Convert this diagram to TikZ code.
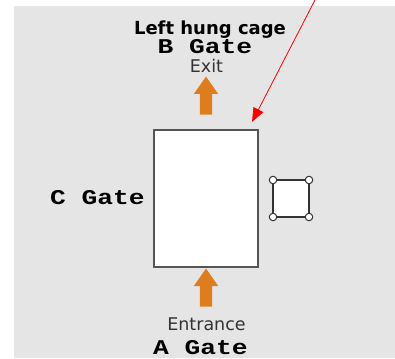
\documentclass[tikz,border=0pt]{standalone}
\usepackage{fontspec}
\setmainfont{DejaVu Sans}
\newfontfamily\gatefont[FakeStretch=1.25]{Liberation Mono}
\usetikzlibrary{shapes.arrows,arrows.meta}

\definecolor{bggray}{RGB}{229,229,229}
\definecolor{flow}{RGB}{222,125,30}
\definecolor{frame}{RGB}{85,85,85}
\definecolor{label}{RGB}{51,51,51}

\begin{document}
\begin{tikzpicture}[x=1pt,y=-1pt,
 gate/.style={anchor=base,font=\gatefont\bfseries\fontsize{21}{21}\selectfont},
 sign/.style={anchor=base,text=label,font=\fontsize{17.5}{17.5}\selectfont},
 flowarrow/.style={single arrow,shape border rotate=90,fill=flow,inner sep=6pt,
   single arrow head extend=6pt,single arrow tip angle=70,minimum height=38},
 hinge/.style={circle,draw=black!80,fill=white,line width=1pt,inner sep=0pt,minimum size=7.5}]

\useasboundingbox (0,0) rectangle (395,358);
\fill[bggray] (14,6) rectangle (395,358);

% cage and gates
\node[draw=frame,fill=white,line width=1.2pt,minimum width=104,minimum height=137] (cage) at (206,198.5) {};
\node[flowarrow] (exitarrow) at (206,100) {};
\node[flowarrow] (entryarrow) at (206,292) {};

\node[anchor=base,font=\bfseries\fontsize{18}{18}\selectfont] (title) at (210,35) {Left hung cage};
\node[gate] (bgate) at (205,54) {B Gate};
\node[sign] (exit) at (206.5,73) {Exit};
\node[gate] (cgate) at (97.5,204) {C Gate};
\node[sign] (entrance) at (206.5,330) {Entrance};
\node[gate] (agate) at (200.5,354) {A Gate};

% hinged door
\coordinate (c1) at (273,180);
\coordinate (c2) at (309,180);
\coordinate (c3) at (309,217);
\coordinate (c4) at (273,217);
\fill[white] (c1) rectangle (c3);
\draw[black!80,line width=1.5pt] (c1) -- (c2) -- (c3) -- (c4) -- cycle;
\foreach \c in {c1,c2,c3,c4}
 \node[hinge] (h\c) at (\c) {};

% pointer
\coordinate (start) at (315,0);
\coordinate (corner) at (252,122);
\draw[red,line width=0.8pt,-{Triangle[length=14pt,width=11pt]}] (start) -- (corner);

\end{tikzpicture}
\end{document}
